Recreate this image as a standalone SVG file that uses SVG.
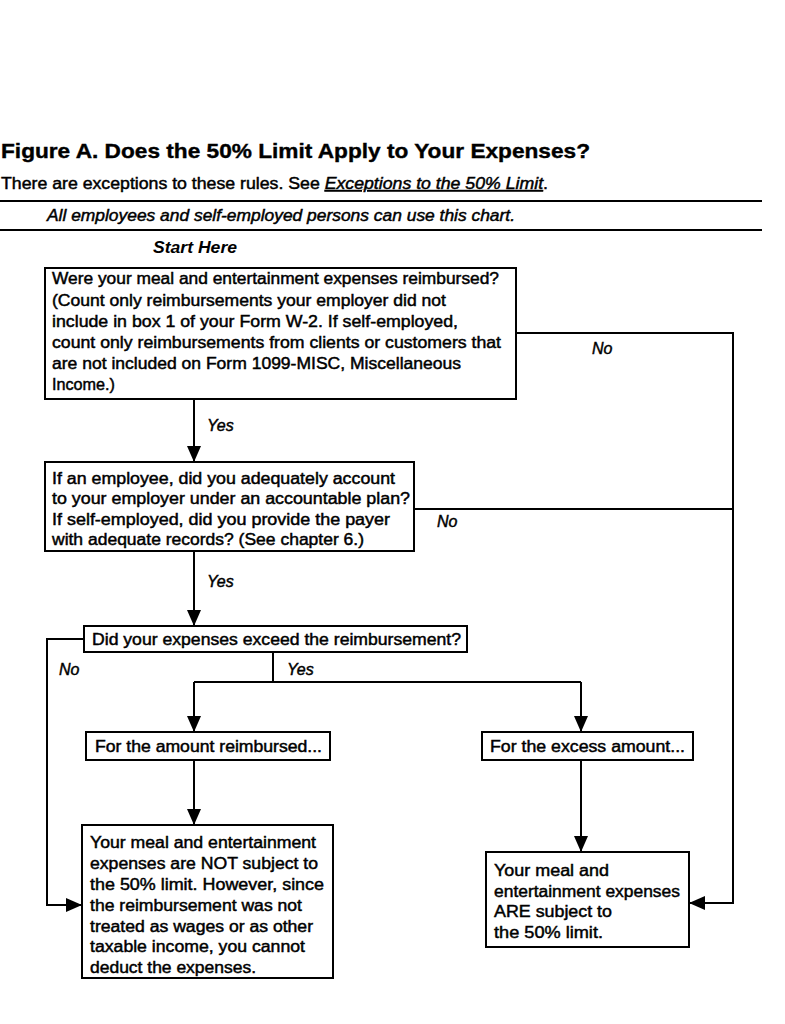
<svg xmlns="http://www.w3.org/2000/svg" width="785" height="1024" viewBox="0 0 785 1024">
<style>
.t{font-family:"Liberation Sans",Arial,sans-serif;font-size:16px;fill:#000;stroke:#000;stroke-width:0.45}
.lbl{font-family:"Liberation Sans",Arial,sans-serif;font-size:16px;font-style:italic;fill:#000;stroke:#000;stroke-width:0.45}
.box{fill:#fff;stroke:#000;stroke-width:2}
.c{fill:none;stroke:#000;stroke-width:2}
.rule{stroke:#000;stroke-width:2}
</style>
<defs>
<marker id="ah" markerUnits="userSpaceOnUse" markerWidth="16" markerHeight="14" refX="16" refY="7" orient="auto">
<path d="M0,0 L16,7 L0,14 z" fill="#000"/>
</marker>
</defs>
<rect width="785" height="1024" fill="#fff"/>
<g id="header">
<text x="1" y="158" font-family="'Liberation Sans',Arial,sans-serif" font-size="21" font-weight="bold" stroke="#000" stroke-width="0.4" textLength="589" lengthAdjust="spacingAndGlyphs">Figure A. Does the 50% Limit Apply to Your Expenses?</text>
<text x="1" y="189" class="t" font-size="15" textLength="547" lengthAdjust="spacingAndGlyphs">There are exceptions to these rules. See <tspan font-style="italic" text-decoration="underline">Exceptions to the 50% Limit</tspan>.</text>
<line x1="0" y1="201" x2="762" y2="201" class="rule"/>
<text x="47" y="221" class="lbl" font-size="15" textLength="468" lengthAdjust="spacingAndGlyphs">All employees and self-employed persons can use this chart.</text>
<line x1="0" y1="230" x2="762" y2="230" class="rule"/>
<text x="153" y="253" font-family="'Liberation Sans',Arial,sans-serif" font-size="16" font-weight="bold" font-style="italic" textLength="84" lengthAdjust="spacingAndGlyphs">Start Here</text>
</g>
<g id="connectors">
<path class="c" d="M194,399 V462" marker-end="url(#ah)"/>
<path class="c" d="M516,333 H733 V903 H689" marker-end="url(#ah)"/>
<path class="c" d="M414,509 H733"/>
<path class="c" d="M194,551 V626" marker-end="url(#ah)"/>
<path class="c" d="M84,639 H47 V905 H82" marker-end="url(#ah)"/>
<path class="c" d="M273,652 V682"/>
<path class="c" d="M194,682 H581"/>
<path class="c" d="M194,682 V732" marker-end="url(#ah)"/>
<path class="c" d="M581,682 V732" marker-end="url(#ah)"/>
<path class="c" d="M194,760 V825" marker-end="url(#ah)"/>
<path class="c" d="M581,760 V852" marker-end="url(#ah)"/>
<text x="592" y="354" class="lbl">No</text>
<text x="207" y="431" class="lbl">Yes</text>
<text x="437" y="527" class="lbl">No</text>
<text x="207" y="587" class="lbl">Yes</text>
<text x="59" y="675" class="lbl">No</text>
<text x="287" y="675" class="lbl">Yes</text>
</g>
<g id="q1">
<rect class="box" x="45" y="268" width="471" height="131"/>
<text class="t" x="52" y="284" textLength="447" lengthAdjust="spacingAndGlyphs">Were your meal and entertainment expenses reimbursed?</text>
<text class="t" x="52" y="306" textLength="394" lengthAdjust="spacingAndGlyphs">(Count only reimbursements your employer did not</text>
<text class="t" x="52" y="327" textLength="406" lengthAdjust="spacingAndGlyphs">include in box 1 of your Form W-2. If self-employed,</text>
<text class="t" x="52" y="348" textLength="449" lengthAdjust="spacingAndGlyphs">count only reimbursements from clients or customers that</text>
<text class="t" x="52" y="369" textLength="409" lengthAdjust="spacingAndGlyphs">are not included on Form 1099-MISC, Miscellaneous</text>
<text class="t" x="52" y="390" textLength="63" lengthAdjust="spacingAndGlyphs">Income.)</text>
</g>
<g id="q2">
<rect class="box" x="45" y="462" width="369" height="89"/>
<text class="t" x="52" y="484" textLength="343" lengthAdjust="spacingAndGlyphs">If an employee, did you adequately account</text>
<text class="t" x="52" y="504" textLength="358" lengthAdjust="spacingAndGlyphs">to your employer under an accountable plan?</text>
<text class="t" x="52" y="525" textLength="338" lengthAdjust="spacingAndGlyphs">If self-employed, did you provide the payer</text>
<text class="t" x="52" y="545" textLength="312" lengthAdjust="spacingAndGlyphs">with adequate records? (See chapter 6.)</text>
</g>
<g id="q3">
<rect class="box" x="84" y="626" width="383" height="26"/>
<text class="t" x="92" y="645" textLength="369" lengthAdjust="spacingAndGlyphs">Did your expenses exceed the reimbursement?</text>
</g>
<g id="amount-reimbursed">
<rect class="box" x="86" y="732" width="244" height="28"/>
<text class="t" x="95" y="752" textLength="227" lengthAdjust="spacingAndGlyphs">For the amount reimbursed...</text>
</g>
<g id="excess-amount">
<rect class="box" x="482" y="732" width="211" height="28"/>
<text class="t" x="490" y="752" textLength="195" lengthAdjust="spacingAndGlyphs">For the excess amount...</text>
</g>
<g id="not-subject">
<rect class="box" x="82" y="825" width="251" height="153"/>
<text class="t" x="90" y="848" textLength="226" lengthAdjust="spacingAndGlyphs">Your meal and entertainment</text>
<text class="t" x="90" y="869" textLength="228" lengthAdjust="spacingAndGlyphs">expenses are NOT subject to</text>
<text class="t" x="90" y="890" textLength="234" lengthAdjust="spacingAndGlyphs">the 50% limit. However, since</text>
<text class="t" x="90" y="911" textLength="212" lengthAdjust="spacingAndGlyphs">the reimbursement was not</text>
<text class="t" x="90" y="932" textLength="223" lengthAdjust="spacingAndGlyphs">treated as wages or as other</text>
<text class="t" x="90" y="952" textLength="215" lengthAdjust="spacingAndGlyphs">taxable income, you cannot</text>
<text class="t" x="90" y="973" textLength="166" lengthAdjust="spacingAndGlyphs">deduct the expenses.</text>
</g>
<g id="subject">
<rect class="box" x="486" y="852" width="203" height="95"/>
<text class="t" x="494" y="876" textLength="115" lengthAdjust="spacingAndGlyphs">Your meal and</text>
<text class="t" x="494" y="897" textLength="186" lengthAdjust="spacingAndGlyphs">entertainment expenses</text>
<text class="t" x="494" y="917" textLength="118" lengthAdjust="spacingAndGlyphs">ARE subject to</text>
<text class="t" x="494" y="938" textLength="109" lengthAdjust="spacingAndGlyphs">the 50% limit.</text>
</g>
</svg>
